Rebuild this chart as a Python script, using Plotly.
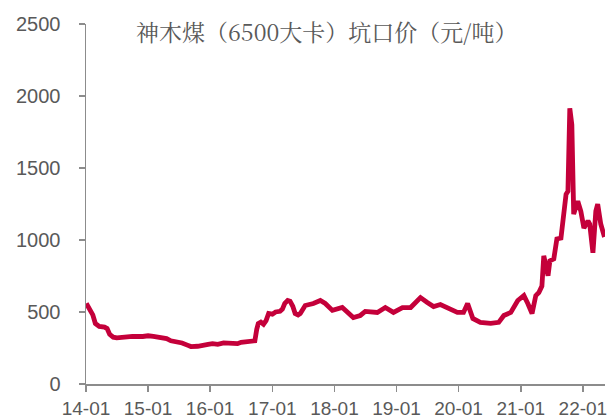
import plotly.graph_objects as go

dates = [
    "2014-01-03", "2014-01-20", "2014-02-10", "2014-02-25", "2014-03-20", "2014-04-20",
    "2014-05-05", "2014-05-20", "2014-06-10", "2014-07-01", "2014-08-01", "2014-10-01",
    "2014-12-01", "2015-01-01", "2015-02-01", "2015-03-15", "2015-04-20", "2015-05-15",
    "2015-06-20", "2015-07-20", "2015-08-20", "2015-09-10", "2015-10-20", "2015-11-20",
    "2015-12-20", "2016-01-15", "2016-02-15", "2016-03-20", "2016-04-20", "2016-05-20",
    "2016-06-10", "2016-07-01", "2016-08-01", "2016-09-01", "2016-09-20", "2016-10-01",
    "2016-10-10", "2016-10-25", "2016-11-10", "2016-11-25", "2016-12-10", "2017-01-01",
    "2017-01-20", "2017-02-15", "2017-03-01", "2017-03-15", "2017-04-01", "2017-04-15",
    "2017-05-01", "2017-05-15", "2017-06-01", "2017-06-14", "2017-07-13", "2017-08-30",
    "2017-10-10", "2017-11-08", "2017-12-20", "2018-02-16", "2018-04-22", "2018-06-02",
    "2018-07-01", "2018-09-10", "2018-10-27", "2018-12-14", "2019-02-05", "2019-03-25",
    "2019-04-22", "2019-05-22", "2019-07-01", "2019-08-07", "2019-09-16", "2019-11-02",
    "2019-12-25", "2020-01-30", "2020-02-23", "2020-03-25", "2020-05-08", "2020-07-08",
    "2020-08-24", "2020-09-23", "2020-11-03", "2020-12-14", "2021-01-19", "2021-02-11",
    "2021-03-08", "2021-03-30", "2021-04-17", "2021-05-05", "2021-05-16", "2021-06-10",
    "2021-06-21", "2021-07-14", "2021-08-01", "2021-08-25", "2021-09-10", "2021-09-24",
    "2021-10-05", "2021-10-16", "2021-10-28", "2021-11-08", "2021-12-02", "2021-12-20",
    "2022-01-07", "2022-01-31", "2022-02-10", "2022-03-01", "2022-03-18", "2022-03-29",
    "2022-04-16", "2022-05-08",
]
prices = [
    560, 520, 480, 420, 400, 395,
    385, 345, 325, 320, 325, 330,
    330, 335, 330, 325, 315, 300,
    295, 285, 270, 260, 262, 265,
    275, 280, 275, 285, 283, 280,
    280, 290, 292, 292, 300, 380,
    420, 430, 415, 440, 490, 485,
    500, 505, 520, 560, 580, 575,
    540, 490, 480, 490, 545, 559,
    580, 559, 511, 531, 462, 476,
    504, 497, 531, 497, 531, 531,
    559, 600, 566, 538, 552, 524,
    497, 497, 559, 455, 428, 421,
    428, 476, 497, 580, 614, 559,
    490, 614, 635, 680, 890, 752,
    856, 869, 1007, 1014, 1152, 1318,
    1339, 1915, 1801, 1180, 1270, 1200,
    1083, 1132, 1111, 911, 1200, 1249,
    1111, 1021,
]

x_tick_vals = ["2014-01-01", "2015-01-01", "2016-01-01", "2017-01-01", "2018-01-01",
               "2019-01-01", "2020-01-01", "2021-01-01", "2022-01-01"]
x_tick_text = ["14-01", "15-01", "16-01", "17-01", "18-01", "19-01", "20-01", "21-01", "22-01"]
y_tick_vals = [0, 500, 1000, 1500, 2000, 2500]

title_text = "神木煤（6500大卡）坑口价（元/吨）"

fig = go.Figure()
fig.add_trace(go.Scatter(
    x=dates, y=prices, mode="lines",
    line=dict(color="#C4003A", width=4.8),
    showlegend=False, hoverinfo="skip", cliponaxis=False,
))

axis_color = "#8C8C8C"
tick_font = dict(family="Liberation Sans, Arial, sans-serif", size=20, color="#595959")
x_tick_font = dict(family="Liberation Sans, Arial, sans-serif", size=19, color="#595959")

fig.update_layout(
    width=611, height=419,
    margin=dict(l=86, r=6, t=24, b=35, autoexpand=False),
    paper_bgcolor="white", plot_bgcolor="white",
    xaxis=dict(
        range=["2014-01-01", "2022-05-11"],
        tickvals=x_tick_vals, ticktext=x_tick_text,
        showgrid=False, zeroline=False, automargin=False,
        showline=True, linecolor=axis_color, linewidth=1.5,
        ticks="outside", ticklen=6, tickcolor=axis_color, tickwidth=1.5,
        tickfont=x_tick_font, ticklabelstandoff=1,
    ),
    yaxis=dict(
        range=[0, 2500],
        tickvals=y_tick_vals,
        showgrid=False, zeroline=False, automargin=False,
        showline=True, linecolor=axis_color, linewidth=1.5,
        ticks="outside", ticklen=6, tickcolor=axis_color, tickwidth=1.5,
        tickfont=tick_font, ticklabelstandoff=14,
    ),
    annotations=[dict(
        text=title_text, xref="paper", yref="paper",
        x=(326 - 86) / (605 - 86), y=(384 - 31) / 360,
        xanchor="center", yanchor="middle", showarrow=False,
        font=dict(family="Noto Serif CJK SC, Noto Sans CJK SC, serif", size=23, color="#595959"),
    )],
)

fig.write_html(
    "out.html",
    config={"displayModeBar": False, "staticPlot": True},
    post_script="document.body.style.margin='0';document.body.style.overflow='hidden';",
)
